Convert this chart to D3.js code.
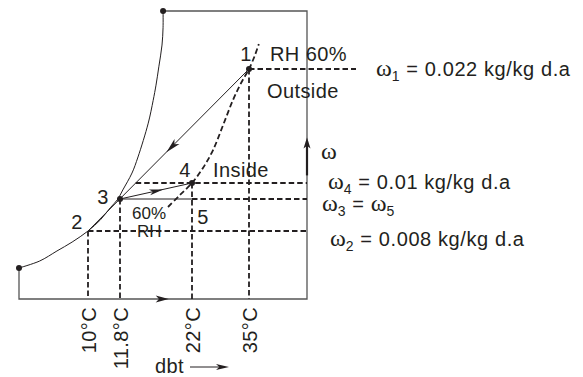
<!DOCTYPE html>
<html lang='en'>
<head>
<meta charset='UTF-8'>
<script src="https://cdnjs.cloudflare.com/ajax/libs/d3/7.8.5/d3.min.js"></script>
<style>
  body { margin: 0; background: #fff; }
  svg { display: block; background: #fff; }
  text { font-family: 'Liberation Sans', Arial, sans-serif; font-size: 20px; fill: #231f20; letter-spacing: 0.4px; }
  .greek { font-family: 'Liberation Serif', 'Times New Roman', serif; font-size: 24px; letter-spacing: 0; }
  .note { letter-spacing: 0.6px; }
  .small { font-size: 17px; letter-spacing: 0; }
  .dash { stroke: #231f20; stroke-width: 1.8; stroke-dasharray: 5.5 3; fill: none; }
  .thin { stroke: #231f20; stroke-width: 1; fill: none; }
  .frame { stroke: #555; stroke-width: 1.3; fill: none; }
  .head { fill: #231f20; stroke: none; }
</style>
<title>Psychrometric process</title>
</head>
<body>
<svg id='chart'></svg>
<script>
'use strict'

// dry bulb ticks
const tickTemps = [10, 11.8, 22, 35]
const tickLabels = ['10°C', '11.8°C', '22°C', '35°C']

// state points: name, dbt (°C), humidity ratio (kg/kg d.a)
const stateNames = ['1', '2', '3', '4', '5']
const stateTemps = [35, 10, 11.8, 22, 22]
const stateOmegas = [0.022, 0.008, 0.0088, 0.01, 0.0088]

// saturation line (schematic)
const satTemps = [0, 3, 5.5, 7.7, 10, 10.7, 11.25, 11.65, 12.2, 13.5, 14.35, 15.8, 16.5, 16.9, 17.3, 17.75, 17.9, 17.9]
const satOmegas = [0.00365, 0.00447, 0.00565, 0.0067, 0.008, 0.00828, 0.00858, 0.00878, 0.00948, 0.01105, 0.01274, 0.0163, 0.0187, 0.0203, 0.0223, 0.0253, 0.0277, 0.03]

// 60% RH line (schematic)
const rhTemps = [18.6, 20.3, 22, 24.5, 26.8, 29.1, 31.35, 33.2, 35, 36.35, 37.2]
const rhOmegas = [0.0086, 0.0091, 0.01, 0.01158, 0.01347, 0.0161, 0.01874, 0.02053, 0.022, 0.02393, 0.02545]

// humidity ratio notes on the right
const omegaLevels = [0.022, 0.01, 0.0088, 0.008]
const omegaLabels = ['ω_1 = 0.022 kg/kg d.a', 'ω_4 = 0.01 kg/kg d.a', 'ω_3 = ω_5', 'ω_2 = 0.008 kg/kg d.a']

const W = 583, H = 377

const svg = d3.select('#chart').attr('width', W).attr('height', H)

// chart is not to scale, so both axes are piecewise
const x = d3.scaleLinear()
  .domain([0, 10, 11.8, 22, 35, 48])
  .range([19, 88, 120, 192, 249, 307])
const y = d3.scaleLinear()
  .domain([0, 0.008, 0.0088, 0.01, 0.022, 0.03])
  .range([299, 231, 199, 183, 69, 11])

const xMin = x.range()[0], xMax = x.range()[x.range().length - 1]
const yMin = y.range()[0], yMax = y.range()[y.range().length - 1]

const pt = i => [x(stateTemps[i]), y(stateOmegas[i])]
const P1 = pt(0), P2 = pt(1), P3 = pt(2), P4 = pt(3), P5 = pt(4)

const sat = satTemps.map((t, i) => [t, satOmegas[i]])
const rh = rhTemps.map((t, i) => [t, rhOmegas[i]])

const curve = d3.line()
  .x(d => x(d[0]))
  .y(d => y(d[1]))
  .curve(d3.curveCatmullRom.alpha(0.5))

function seg(a, b, cls) {
  svg.append('line').attr('class', cls)
    .attr('x1', a[0]).attr('y1', a[1]).attr('x2', b[0]).attr('y2', b[1])
}

function arrowHead(tip, ang, len, half) {
  const bx = tip[0] - len * Math.cos(ang), by = tip[1] - len * Math.sin(ang)
  const nx = -Math.sin(ang) * half, ny = Math.cos(ang) * half
  const ix = tip[0] - len * 0.75 * Math.cos(ang), iy = tip[1] - len * 0.75 * Math.sin(ang)
  svg.append('path').attr('class', 'head')
    .attr('d', `M${tip[0]},${tip[1]}L${bx + nx},${by + ny}L${ix},${iy}L${bx - nx},${by - ny}Z`)
}

function along(a, b, f) {
  return [a[0] + (b[0] - a[0]) * f, a[1] + (b[1] - a[1]) * f]
}

// frame
const satStart = [x(sat[0][0]), y(sat[0][1])]
const satEnd = [x(sat[sat.length - 1][0]), y(sat[sat.length - 1][1])]
svg.append('path').attr('class', 'frame')
  .attr('d', `M${satStart[0]},${satStart[1]}L${xMin},${yMin}L${xMax},${yMin}L${xMax},${yMax}L${satEnd[0]},${satEnd[1]}`)

// saturation and 60% RH curves
svg.append('path').attr('class', 'thin').attr('d', curve(sat))
svg.append('path').attr('class', 'dash').attr('d', curve(rh))

// vertical dashed drops to dbt axis
tickTemps.forEach(t => {
  const idx = stateTemps.indexOf(t)
  seg([x(t), y(stateOmegas[idx])], [x(t), yMin], 'dash')
})

// horizontal dashed lines
seg(P1, [xMax + 49, P1[1]], 'dash')
const x14 = P1[0] + (P4[1] - P1[1]) * (P2[0] - P1[0]) / (P2[1] - P1[1])
seg([x14, P4[1]], [xMax, P4[1]], 'dash')
seg(P3, P5, 'thin')
seg(P5, [xMax, P5[1]], 'dash')
seg(P2, [xMax, P2[1]], 'dash')

// process lines 1 -> 3 (on to 2) and 3 -> 4
seg(P1, P2, 'thin')
seg(P3, P4, 'thin')
arrowHead(along(P1, P3, 0.64), Math.atan2(P3[1] - P1[1], P3[0] - P1[0]), 15, 3.5)
arrowHead(along(P3, P4, 0.6), Math.atan2(P4[1] - P3[1], P4[0] - P3[0]), 14, 3)

// axis arrows
arrowHead([x(18.7), yMin], 0, 13, 3.5)
svg.append('line').attr('x1', xMax).attr('x2', xMax)
  .attr('y1', y(0.0108)).attr('y2', y(0.0148) + 4)
  .attr('stroke', '#231f20').attr('stroke-width', 2.2)
arrowHead([xMax, y(0.0148)], -Math.PI / 2, 11, 3.5)
svg.append('text').attr('class', 'greek').attr('x', xMax + 14).attr('y', y(0.0128) + 3).text('ω')

// dots
const dots = [satStart, satEnd, P1, P3, P4]
svg.selectAll('circle.dot').data(dots).enter().append('circle')
  .attr('class', 'dot').attr('cx', d => d[0]).attr('cy', d => d[1]).attr('r', 3)
  .attr('fill', '#231f20')

// state numbers
const numOffsets = [[-3, -8], [-11, -2], [-17, 5], [-7, -6], [11, 25]]
stateNames.forEach((n, i) => {
  const p = pt(i)
  svg.append('text').attr('text-anchor', 'middle')
    .attr('x', p[0] + numOffsets[i][0]).attr('y', p[1] + numOffsets[i][1]).text(n)
})

// region notes
svg.append('text').attr('x', P1[0] + 21).attr('y', P1[1] - 8).text('RH 60%')
svg.append('text').attr('x', P1[0] + 18).attr('y', P1[1] + 29).text('Outside')
svg.append('text').attr('x', P4[0] + 21).attr('y', P4[1] - 6).text('Inside')
svg.append('text').attr('class', 'small').attr('x', P3[0] + 12).attr('y', P3[1] + 20).text('60%')
svg.append('text').attr('class', 'small').attr('x', P3[0] + 17).attr('y', P3[1] + 38).text('RH')

// dbt tick labels
tickTemps.forEach((t, i) => {
  const tx = x(t) + 8, ty = yMin + 8
  svg.append('text').attr('text-anchor', 'end')
    .attr('transform', `translate(${tx},${ty}) rotate(-90)`)
    .text(tickLabels[i])
})

svg.append('text').attr('x', 155).attr('y', 373).text('dbt')
seg([190, 367], [222, 367], 'thin')
arrowHead([229, 367], 0, 13, 3)

// ω notes
const noteX = [376, 328, 322, 330]
const noteDy = [7, 6, 12, 15]
omegaLabels.forEach((lab, i) => {
  const t = svg.append('text').attr('class', 'note')
    .attr('x', noteX[i]).attr('y', y(omegaLevels[i]) + noteDy[i])
  let shifted = false
  lab.split(/(ω_\d)/).filter(s => s.length).forEach(part => {
    if (part.startsWith('ω_')) {
      t.append('tspan').attr('class', 'greek').attr('dy', shifted ? -5 : 0).text('ω')
      t.append('tspan').attr('font-size', 14).attr('dy', 5).text(part.slice(2))
      shifted = true
    } else {
      t.append('tspan').attr('dy', shifted ? -5 : 0).text(part)
      shifted = false
    }
  })
})
</script>
</body>
</html>
